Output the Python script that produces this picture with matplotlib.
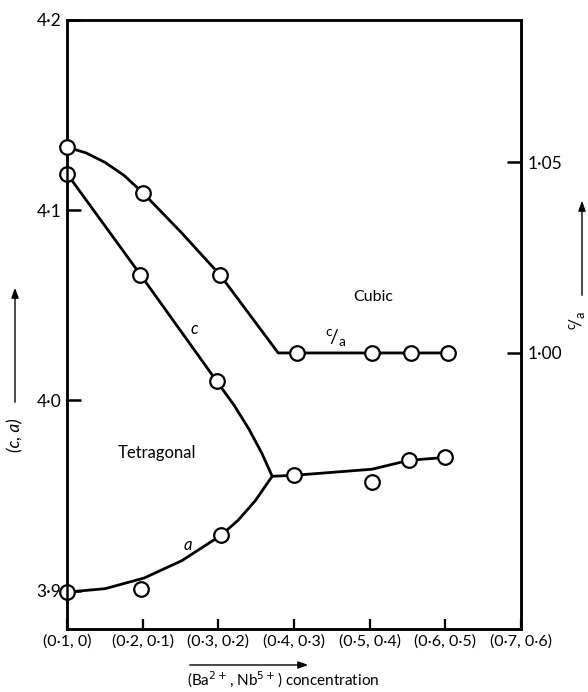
import matplotlib
matplotlib.use('Agg')
import matplotlib.pyplot as plt

plt.rcParams['font.family'] = ['Lato', 'DejaVu Sans']

# ---- axis ticks / labels ----
x_ticks = [0.1, 0.2, 0.3, 0.4, 0.5, 0.6, 0.7]
x_tick_labels = ['(0·1, 0)', '(0·2, 0·1)', '(0·3, 0·2)', '(0·4, 0·3)',
                 '(0·5, 0·4)', '(0·6, 0·5)', '(0·7, 0·6)']
y_ticks = [3.9, 4.0, 4.1, 4.2]
y_tick_labels = ['3·9', '4·0', '4·1', '4·2']
ca_ticks = [1.00, 1.05]
ca_tick_labels = ['1·00', '1·05']

# ---- measured points ----
c_x = [0.1, 0.197, 0.298]
c_val = [4.1192, 4.0661, 4.0100]
a_x = [0.1, 0.198, 0.304, 0.400, 0.503, 0.552, 0.600]
a_val = [3.8992, 3.9008, 3.9291, 3.9606, 3.957, 3.9685, 3.970]
ca_x = [0.1, 0.2, 0.302, 0.404, 0.503, 0.554, 0.604]
ca_val = [1.0539, 1.0419, 1.0204, 1.000, 1.000, 1.000, 1.000]

# ---- hand-drawn curves ----
c_curve_x = [0.1, 0.197, 0.298, 0.3209, 0.3406, 0.3575, 0.3712]
c_curve_val = [4.1192, 4.0661, 4.0100, 3.9974, 3.9848, 3.9722, 3.9601]
a_curve_x = [0.1, 0.1503, 0.2019, 0.2521, 0.3037, 0.3262, 0.3487, 0.3712,
             0.400, 0.503, 0.552, 0.600]
a_curve_val = [3.8992, 3.9010, 3.9066, 3.9158, 3.9291, 3.9370, 3.9472, 3.9601,
               3.9606, 3.9638, 3.9685, 3.970]
ca_curve_x = [0.1, 0.1251, 0.1503, 0.1754, 0.2005, 0.2508, 0.3024, 0.3791, 0.604]
ca_curve_val = [1.0539, 1.0524, 1.0499, 1.0465, 1.0419, 1.0316, 1.0204, 1.000, 1.000]

W, H = 588, 692
fig = plt.figure(figsize=(W / 100, H / 100), dpi=100)
ax = fig.add_axes([67 / W, 1 - 629 / H, (521 - 67) / W, (629 - 20) / H])
ax2 = ax.twinx()

lw = 2.0
line_kw = dict(color='black', lw=lw, solid_joinstyle='round', solid_capstyle='round', zorder=2)
mk_kw = dict(ls='none', marker='o', ms=10.5, mfc='white', mec='black', mew=1.6, zorder=5,
             clip_on=False)

ax.plot(c_curve_x, c_curve_val, **line_kw)
ax.plot(a_curve_x, a_curve_val, **line_kw)
ax.plot(c_x, c_val, **mk_kw)
ax.plot(a_x, a_val, **mk_kw)

ax2.plot(ca_curve_x, ca_curve_val, **line_kw)
ax2.plot(ca_x, ca_val, **mk_kw)

ax.set_xlim(0.1, 0.7)
ax.set_ylim(3.8798, 4.1995)
ax2.set_ylim(0.9277, 1.0872)

ax.set_xticks(x_ticks)
ax.set_xticklabels(x_tick_labels, fontsize=11.5)
ax.set_yticks(y_ticks)
ax.set_yticklabels(y_tick_labels, fontsize=12.5)
ax2.set_yticks(ca_ticks)
ax2.set_yticklabels(ca_tick_labels, fontsize=12.5)

ax.tick_params(axis='x', direction='in', length=7, width=1.6, pad=4, top=False)
ax.tick_params(axis='y', direction='in', length=10, width=1.8, pad=4, right=False)
ax2.tick_params(axis='y', direction='in', length=10, width=1.8, pad=5, left=False)

for a_ in (ax, ax2):
    for s in a_.spines.values():
        s.set_linewidth(1.8)
ax2.patch.set_visible(False)

# region / curve labels
ax.text(0.505, 4.0546, 'Cubic', ha='center', va='center', fontsize=11.5)
ax.text(0.219, 3.9722, 'Tetragonal', ha='center', va='center', fontsize=12)
ax.text(0.268, 4.0373, 'c', ha='center', va='center', fontsize=12, style='italic')
ax.text(0.260, 3.9239, 'a', ha='center', va='center', fontsize=12, style='italic')
ax.text(0.4545, 4.0331, r'$\mathregular{^{c}\!/_{a}}$', ha='center', va='center', fontsize=14)

def fx(px):
    return px / W

def fy(py):
    return 1 - py / H

# x label with arrow
fig.text(fx(283), fy(680), r'(Ba$^{2+}$, Nb$^{5+}$) concentration', ha='center', va='center',
         fontsize=11)
fig.add_artist(matplotlib.patches.FancyArrowPatch(
    (fx(187), fy(665)), (fx(311), fy(665)), transform=fig.transFigure,
    arrowstyle='-|>,head_length=6,head_width=2.2', color='black', lw=1.0))

# left y label with arrow
fig.text(fx(15), fy(435), '(c, a)', rotation=90, ha='center', va='center', fontsize=12.5,
         style='italic')
fig.add_artist(matplotlib.patches.FancyArrowPatch(
    (fx(15), fy(405)), (fx(15), fy(285)), transform=fig.transFigure,
    arrowstyle='-|>,head_length=6,head_width=2.2', color='black', lw=1.0))

# right y label with arrow
fig.text(fx(578), fy(320), r'$\mathregular{^{c}\!/_{a}}$', rotation=90, ha='center',
         va='center', fontsize=13)
fig.add_artist(matplotlib.patches.FancyArrowPatch(
    (fx(582), fy(298)), (fx(582), fy(198)), transform=fig.transFigure,
    arrowstyle='-|>,head_length=6,head_width=2.2', color='black', lw=1.0))

fig.savefig('out.png', dpi=100)
